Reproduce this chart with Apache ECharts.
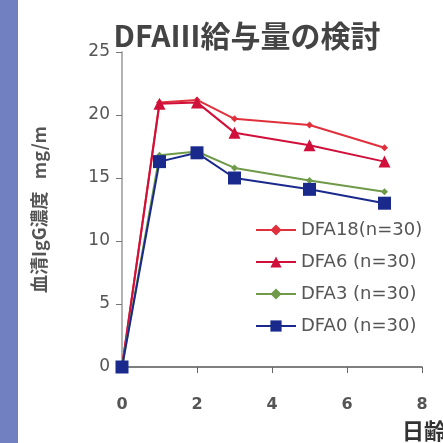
<!DOCTYPE html>
<html><head><meta charset="utf-8">
<script src="https://cdn.jsdelivr.net/npm/echarts@6/dist/echarts.min.js"></script>
<style>html,body{margin:0;padding:0;background:#fff}#c{width:443px;height:443px}</style>
</head><body><div id="c"></div>
<script>
const days = [0, 1, 2, 3, 5, 7];
const dfa18 = [0, 21.0, 21.2, 19.7, 19.2, 17.4];
const dfa6 = [0, 20.9, 21.0, 18.6, 17.6, 16.3];
const dfa3 = [0, 16.8, 17.1, 15.8, 14.8, 13.9];
const dfa0 = [0, 16.3, 17.0, 15.0, 14.1, 13.0];
const seriesNames = ['DFA18(n=30)', 'DFA6 (n=30)', 'DFA3 (n=30)', 'DFA0 (n=30)'];
const xTicks = [0, 2, 4, 6, 8];
const yTicks = [0, 5, 10, 15, 20, 25];

const pair = v => days.map((d, i) => [d, v[i]]);
const chart = echarts.init(document.getElementById('c'));
const font = 'Noto Sans CJK JP, Noto Sans, sans-serif';
const mk = (name, data, color, symbol, size, width) => ({
  name, type: 'line', data: pair(data), symbol, symbolSize: size,
  lineStyle: { color, width }, itemStyle: { color }, z: 3
});
chart.setOption({
  backgroundColor: '#fff',
  animation: false,
  title: {
    text: 'DFAⅢ給与量の検討', left: 242, top: 16, textAlign: 'center',
    textStyle: { fontFamily: font, fontSize: 30, fontWeight: 'bold', color: '#444' }
  },
  grid: { left: 122, right: 21, top: 52, bottom: 76 },
  legend: {
    orient: 'vertical', left: 250, top: 216, itemGap: 14, itemWidth: 40, itemHeight: 14,
    textStyle: { fontFamily: 'DejaVu Sans, sans-serif', fontSize: 18, color: '#555' },
    data: seriesNames
  },
  xAxis: {
    type: 'value', min: xTicks[0], max: xTicks[xTicks.length - 1], interval: 2,
    axisLine: { lineStyle: { color: '#555', width: 1.5 } },
    axisTick: { inside: false, length: 6, lineStyle: { color: '#666' } },
    axisLabel: { fontFamily: 'DejaVu Sans, sans-serif', fontSize: 16, color: '#555', margin: 30, fontWeight: 'bold' },
    splitLine: { show: false }
  },
  yAxis: {
    type: 'value', min: yTicks[0], max: yTicks[yTicks.length - 1], interval: 5,
    name: '血清IgG濃度   mg/m', nameLocation: 'middle', nameGap: 74, nameRotate: 90,
    nameTextStyle: { fontFamily: font, fontSize: 18, fontWeight: 'bold', color: '#555' },
    axisLine: { show: true, lineStyle: { color: '#999', width: 1.5 } },
    axisTick: { show: true, length: 6, lineStyle: { color: '#777' } },
    axisLabel: { fontFamily: 'DejaVu Sans, sans-serif', fontSize: 17, color: '#555', margin: 12 },
    splitLine: { show: false }
  },
  graphic: [
    { type: 'rect', left: 0, top: 0, shape: { width: 18, height: 443 }, style: { fill: '#7080c0' } },
    { type: 'text', left: 402, top: 420, style: { text: '日齢', font: 'bold 22px ' + font, fill: '#333' } }
  ],
  series: [
    mk(seriesNames[0], dfa18, '#e0303c', 'diamond', 7, 2),
    mk(seriesNames[1], dfa6, '#d0103a', 'triangle', 12, 2),
    mk(seriesNames[2], dfa3, '#6e9a4a', 'diamond', 7, 2),
    mk(seriesNames[3], dfa0, '#1a2a8c', 'rect', 13, 2)
  ]
});
</script></body></html>
